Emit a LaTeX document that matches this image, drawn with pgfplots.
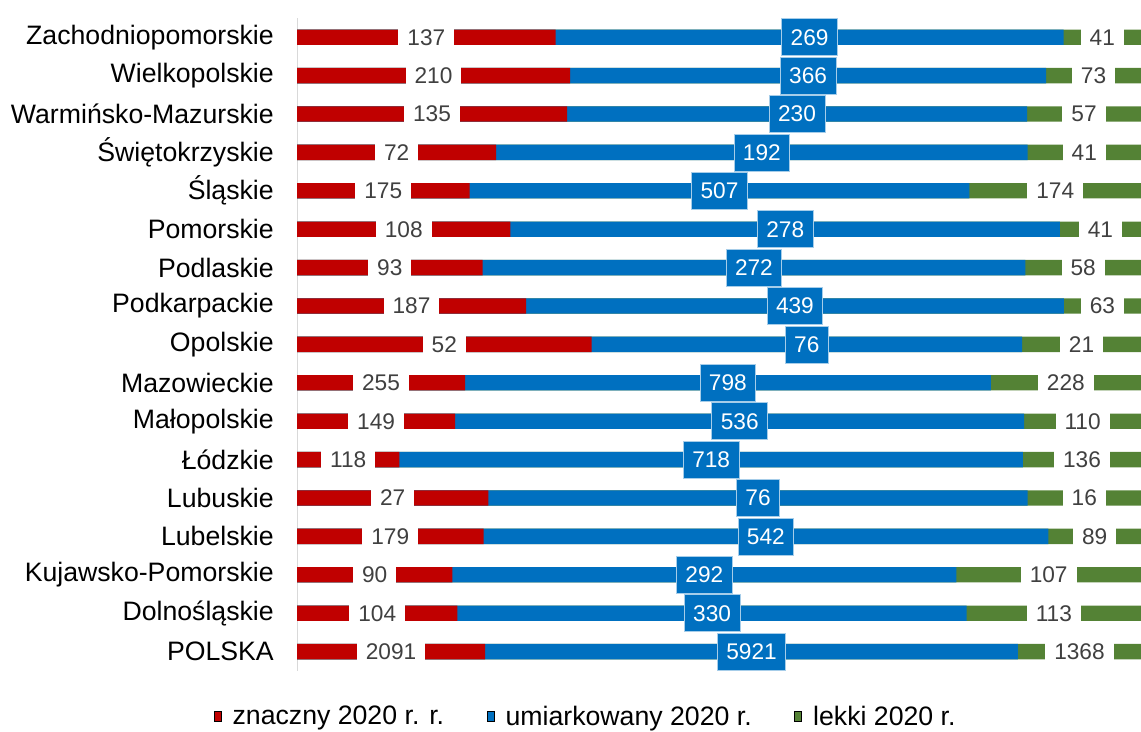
\documentclass[border=0pt]{standalone}
\usepackage{pgfplots}
\usepackage{pgfplotstable}
\pgfplotsset{compat=1.18}
\usepackage{fontspec}
\setmainfont{Liberation Sans}
\definecolor{cred}{HTML}{C00000}
\definecolor{cblue}{HTML}{0070C0}
\definecolor{cgreen}{HTML}{548235}
\definecolor{tgray}{HTML}{404040}
\definecolor{agray}{HTML}{D9D9D9}
\pgfplotstableread{
name a b c
Zachodniopomorskie 137 269 41
Wielkopolskie 210 366 73
Warmińsko-Mazurskie 135 230 57
Świętokrzyskie 72 192 41
Śląskie 175 507 174
Pomorskie 108 278 41
Podlaskie 93 272 58
Podkarpackie 187 439 63
Opolskie 52 76 21
Mazowieckie 255 798 228
Małopolskie 149 536 110
Łódzkie 118 718 136
Lubuskie 27 76 16
Lubelskie 179 542 89
Kujawsko-Pomorskie 90 292 107
Dolnośląskie 104 330 113
POLSKA 2091 5921 1368
}\data
\pgfplotsset{
  barsty/.style={xbar, bar width=11.5pt, bar shift=0pt, draw=none, fill=#1, forget plot},
  lblsty/.style={draw=none, mark=none, forget plot, nodes near coords, point meta=explicit symbolic,
    every node near coord/.append style={anchor=center, font=\fontsize{17}{20}\selectfont,
      inner xsep=6.75pt, inner ysep=0pt, minimum height=27.75pt, #1}},
}
\begin{document}
\begin{tikzpicture}
\path[use as bounding box] (0,0) rectangle (855.75pt,-548.25pt);
\begin{axis}[
  at={(222.75pt,-13.5pt)}, anchor=north west,
  scale only axis, width=633pt, height=489.6pt,
  xmin=0, xmax=100, ymin=-0.5, ymax=16.5, y dir=reverse,
  axis x line=none, axis y line*=left,
  axis line style={agray, line width=0.75pt},
  ytick={0,...,16}, yticklabels from table={\data}{name},
  major tick length=0pt,
  yticklabel style={font=\fontsize{20}{24}\selectfont, text=black, inner xsep=0pt, xshift=-17.25pt},
  clip=false,
  legend image code/.code={\fill[#1] (0pt,-3.75pt) rectangle (5.25pt,3.75pt);},
  legend style={draw=none, fill=none, legend columns=3, at={(0.344,-0.07)}, anchor=center,
    font=\fontsize{20}{24}\selectfont,
    nodes={inner xsep=4pt},
    /tikz/every odd column/.append style={column sep=4.5pt},
    /tikz/every even column/.append style={column sep=28pt}},
]
\addplot[barsty=cgreen] table[x expr={(\thisrow{a}+\thisrow{b}+\thisrow{c})/(\thisrow{a}+\thisrow{b}+\thisrow{c})*100}, y expr=\coordindex] {\data};
\addplot[barsty=cblue] table[x expr={(\thisrow{a}+\thisrow{b})/(\thisrow{a}+\thisrow{b}+\thisrow{c})*100}, y expr=\coordindex] {\data};
\addplot[barsty=cred] table[x expr={\thisrow{a}/(\thisrow{a}+\thisrow{b}+\thisrow{c})*100}, y expr=\coordindex] {\data};
\addplot[lblsty={fill=white, text=tgray}] table[x expr={\thisrow{a}/2/(\thisrow{a}+\thisrow{b}+\thisrow{c})*100}, y expr=\coordindex, meta=a] {\data};
\addplot[lblsty={fill=cblue, text=white, draw=cblue!35!white, line width=0.6pt}] table[x expr={(\thisrow{a}+\thisrow{b}/2)/(\thisrow{a}+\thisrow{b}+\thisrow{c})*100}, y expr=\coordindex, meta=b] {\data};
\addplot[lblsty={fill=white, text=tgray}] table[x expr={(\thisrow{a}+\thisrow{b}+\thisrow{c}/2)/(\thisrow{a}+\thisrow{b}+\thisrow{c})*100}, y expr=\coordindex, meta=c] {\data};
\addlegendimage{fill=cred}\addlegendentry{znaczny 2020 r. r.}
\addlegendimage{fill=cblue}\addlegendentry{umiarkowany 2020 r.}
\addlegendimage{fill=cgreen}\addlegendentry{lekki 2020 r.}
\end{axis}
\end{tikzpicture}
\end{document}
